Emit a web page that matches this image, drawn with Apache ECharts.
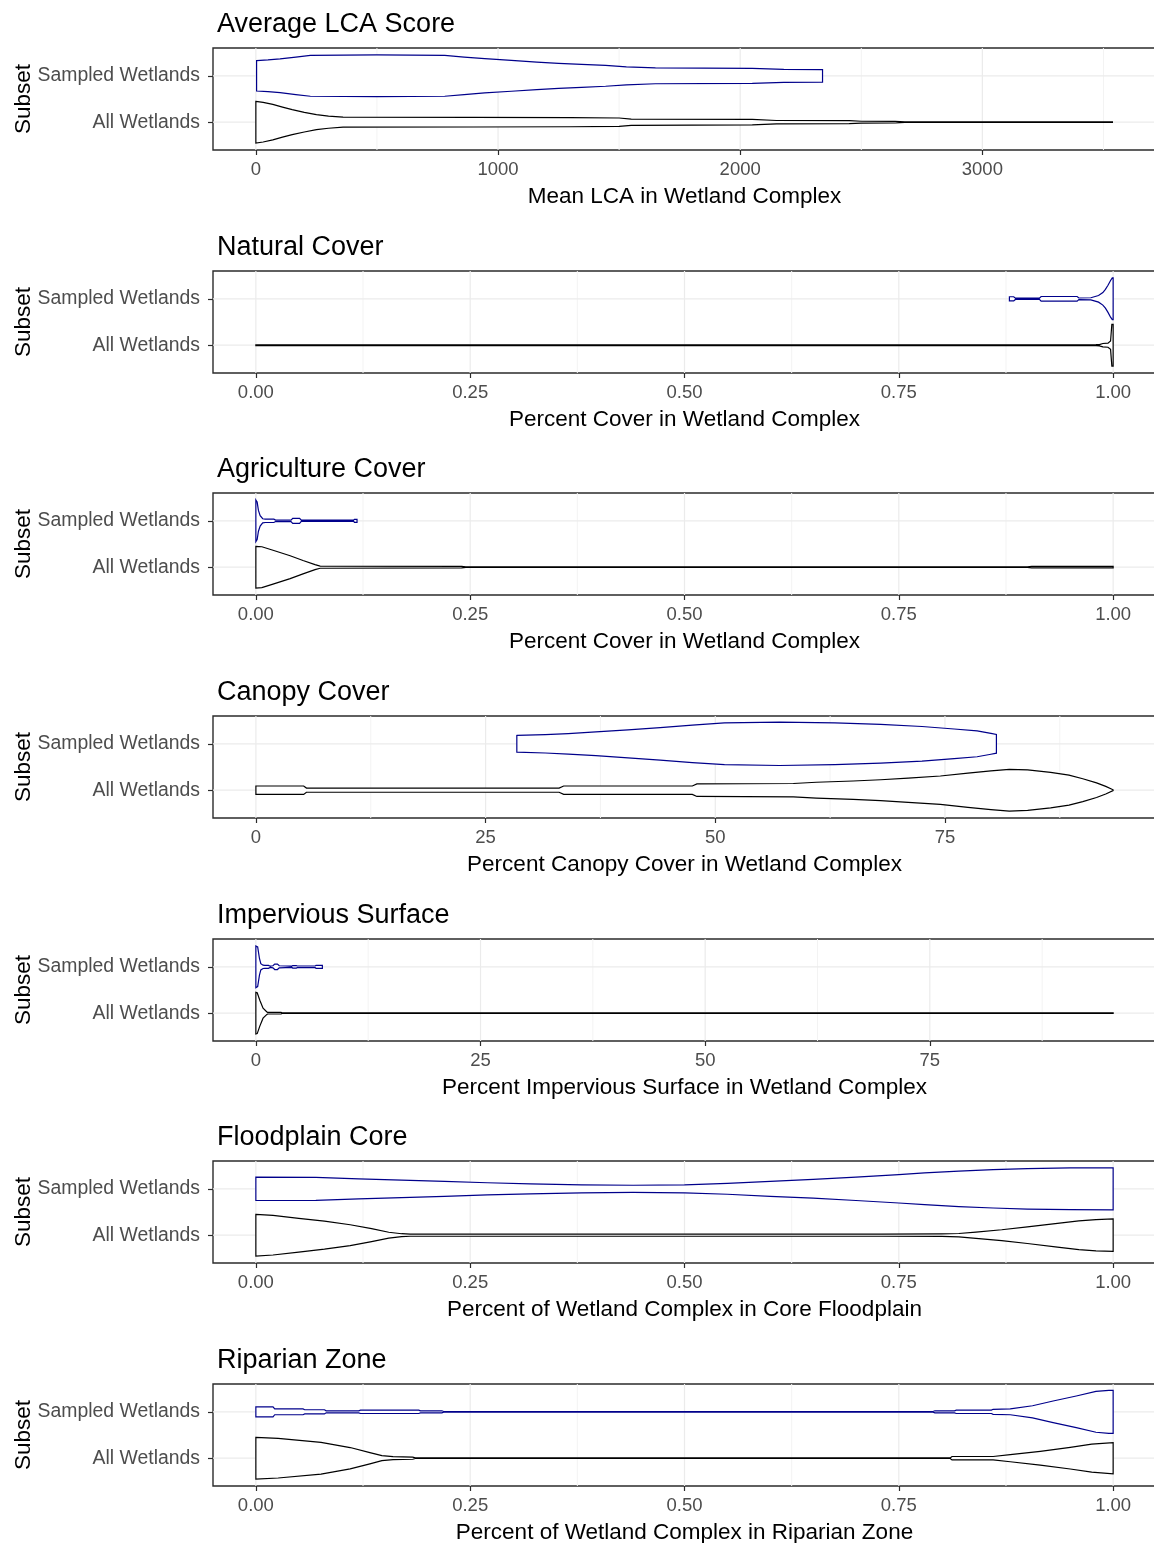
<!DOCTYPE html>
<html>
<head>
<meta charset="utf-8">
<script src="https://cdn.jsdelivr.net/npm/echarts@6/dist/echarts.min.js"></script>
<style>
  html, body { margin: 0; padding: 0; background: #fff; }
  #chart { width: 1154px; height: 1543px; }
</style>
</head>
<body>
<div id="chart"></div>
<script>
// ---- Labels -------------------------------------------------------------
const subsetLabels = ['All Wetlands', 'Sampled Wetlands'];   // y = 1, 2
const panelTitles = [
  'Average LCA Score', 'Natural Cover', 'Agriculture Cover', 'Canopy Cover',
  'Impervious Surface', 'Floodplain Core', 'Riparian Zone'
];
const axisTitles = [
  'Mean LCA in Wetland Complex',
  'Percent Cover in Wetland Complex',
  'Percent Cover in Wetland Complex',
  'Percent Canopy Cover in Wetland Complex',
  'Percent Impervious Surface in Wetland Complex',
  'Percent of Wetland Complex in Core Floodplain',
  'Percent of Wetland Complex in Riparian Zone'
];

// ---- Scales (data range plus 5% padding) -------------------------------
const xLimits = [
  [-177, 3717], [-0.05, 1.05], [-0.05, 1.05], [-4.67, 97.97],
  [-4.77, 100.17], [-0.05, 1.05], [-0.05, 1.05]
];
const majorBreaks = [
  [0, 1000, 2000, 3000],
  [0, 0.25, 0.5, 0.75, 1],
  [0, 0.25, 0.5, 0.75, 1],
  [0, 25, 50, 75],
  [0, 25, 50, 75],
  [0, 0.25, 0.5, 0.75, 1],
  [0, 0.25, 0.5, 0.75, 1]
];
const minorBreaks = [
  [500, 1500, 2500, 3500],
  [0.125, 0.375, 0.625, 0.875],
  [0.125, 0.375, 0.625, 0.875],
  [12.5, 37.5, 62.5, 87.5],
  [12.5, 37.5, 62.5, 87.5],
  [0.125, 0.375, 0.625, 0.875],
  [0.125, 0.375, 0.625, 0.875]
];
const tickDecimals = [0, 2, 2, 0, 0, 2, 2];

// ---- Violin profiles: [value, relative density width] -----------------
const lcaAll = [[0,1.0],[30,0.95],[70,0.85],[110,0.72],[150,0.6],[200,0.47],[250,0.36],[300,0.29],[360,0.24],[900,0.23],[1300,0.22],[1500,0.2],[1550,0.15],[2050,0.13],[2150,0.08],[2450,0.07],[2500,0.045],[2640,0.04],[2680,0.012],[3537,0.01]];
const lcaSampled = [[3,0.73],[50,0.76],[100,0.81],[165,0.9],[225,0.98],[500,1.0],[780,0.98],[860,0.9],[945,0.82],[1055,0.74],[1160,0.66],[1250,0.6],[1345,0.55],[1444,0.5],[1530,0.43],[1650,0.38],[2050,0.36],[2180,0.31],[2340,0.3]];

const naturalAll = [[0,0.02],[0.5,0.02],[0.98,0.025],[0.984,0.03],[0.988,0.08],[0.994,0.1],[0.997,0.2],[0.9985,1.0],[1.0,1.0]];
const naturalSampled = [[0.879,0.1],[0.884,0.1],[0.886,0.03],[0.914,0.03],[0.916,0.11],[0.958,0.11],[0.96,0.04],[0.974,0.05],[0.978,0.1],[0.983,0.16],[0.988,0.3],[0.991,0.45],[0.994,0.65],[0.997,0.88],[0.999,1.0],[1.0,1.0]];

const agricultureAll = [[0,1.0],[0.007,0.98],[0.02,0.81],[0.04,0.55],[0.055,0.32],[0.069,0.12],[0.075,0.05],[0.24,0.035],[0.245,0.015],[0.9,0.015],[0.905,0.035],[1.0,0.035]];
const agricultureSampled = [[0,1.0],[0.0015,0.9],[0.003,0.5],[0.005,0.25],[0.008,0.1],[0.011,0.08],[0.021,0.08],[0.023,0.035],[0.041,0.035],[0.043,0.12],[0.051,0.12],[0.053,0.03],[0.114,0.03],[0.115,0.07],[0.118,0.07]];

const canopyAll = [[0,0.2],[5.2,0.2],[5.5,0.1],[33,0.1],[33.5,0.2],[47.5,0.2],[48,0.3],[58.5,0.32],[61,0.38],[65,0.44],[68,0.5],[71,0.58],[74.5,0.68],[77.5,0.82],[80,0.93],[82,1.0],[84,0.97],[86.5,0.85],[88.5,0.72],[90,0.55],[91.5,0.35],[92.5,0.18],[93.3,0.02]];
const canopySampled = [[28.4,0.4],[31.5,0.44],[34,0.49],[37,0.57],[40.5,0.67],[44,0.78],[47.5,0.9],[51,1.0],[57,1.04],[63,1.0],[68,0.93],[72.5,0.83],[76,0.71],[78.5,0.62],[80,0.5],[80.6,0.45]];

const imperviousAll = [[0,1.0],[0.15,0.98],[0.44,0.62],[0.8,0.24],[1.2,0.07],[1.3,0.04],[2.8,0.04],[2.9,0.015],[95.4,0.015]];
const imperviousSampled = [[0,1.0],[0.2,0.95],[0.4,0.4],[0.55,0.15],[0.8,0.08],[1.0,0.07],[1.4,0.07],[1.6,0.03],[1.9,0.05],[2.1,0.13],[2.4,0.13],[2.6,0.05],[4.0,0.03],[4.1,0.06],[4.5,0.06],[4.6,0.04],[6.6,0.04],[6.7,0.07],[7.4,0.07]];

const floodplainAll = [[0,1.0],[0.02,0.95],[0.05,0.81],[0.08,0.67],[0.11,0.5],[0.135,0.31],[0.155,0.14],[0.17,0.07],[0.18,0.05],[0.73,0.05],[0.8,0.06],[0.82,0.08],[0.84,0.15],[0.87,0.26],[0.9,0.4],[0.935,0.57],[0.96,0.69],[0.98,0.75],[1.0,0.78]];
const floodplainSampled = [[0,0.56],[0.07,0.55],[0.12,0.48],[0.17,0.42],[0.22,0.36],[0.27,0.29],[0.32,0.24],[0.38,0.19],[0.44,0.17],[0.5,0.19],[0.55,0.26],[0.6,0.36],[0.65,0.45],[0.7,0.56],[0.75,0.68],[0.78,0.76],[0.82,0.85],[0.86,0.92],[0.9,0.97],[0.95,1.0],[1.0,1.01]];

const riparianAll = [[0,1.0],[0.026,0.95],[0.076,0.76],[0.11,0.51],[0.133,0.27],[0.147,0.12],[0.16,0.07],[0.183,0.05],[0.186,0.015],[0.81,0.015],[0.812,0.08],[0.86,0.08],[0.88,0.17],[0.915,0.33],[0.95,0.52],[0.975,0.67],[1.0,0.75]];
const riparianSampled = [[0,0.24],[0.02,0.24],[0.022,0.14],[0.055,0.14],[0.057,0.1],[0.08,0.1],[0.082,0.05],[0.12,0.05],[0.122,0.08],[0.19,0.08],[0.192,0.05],[0.217,0.05],[0.219,0.015],[0.79,0.015],[0.792,0.05],[0.815,0.05],[0.817,0.08],[0.858,0.08],[0.86,0.12],[0.88,0.14],[0.906,0.29],[0.93,0.52],[0.957,0.76],[0.98,0.98],[0.995,1.03],[1.0,1.03]];

const violinPairs = [
  [lcaAll, lcaSampled],
  [naturalAll, naturalSampled],
  [agricultureAll, agricultureSampled],
  [canopyAll, canopySampled],
  [imperviousAll, imperviousSampled],
  [floodplainAll, floodplainSampled],
  [riparianAll, riparianSampled]
];

// ---- Layout & styling ----------------------------------------------------
const FONT = '"Liberation Sans", Arial, sans-serif';
const PLOT_LEFT = 213, PLOT_WIDTH = 943, PLOT_HEIGHT = 102;
const FIRST_TOP = 48, PANEL_STEP = 222.67;
const MAX_HALF = 0.45;                       // half violin width, in category units
const SUBSET_COLORS = ['#000000', '#00008B'];
const GRID_MAJOR = '#EBEBEB', GRID_MINOR = '#F3F3F3';
const FRAME = '#2B2B2B';

const grids = [], xAxes = [], yAxes = [], titles = [], series = [];

function gridLineSeries(i, values, vertical, color, width) {
  return {
    type: 'custom', xAxisIndex: i, yAxisIndex: i, z: 1, silent: true,
    data: values.map(v => vertical ? [v, 1] : [xLimits[i][0], v]),
    encode: { x: 0, y: 1 },
    renderItem: function (params, api) {
      const cs = params.coordSys;
      const p = api.coord([api.value(0), api.value(1)]);
      const shape = vertical
        ? { x1: p[0], y1: cs.y, x2: p[0], y2: cs.y + cs.height }
        : { x1: cs.x, y1: p[1], x2: cs.x + cs.width, y2: p[1] };
      return { type: 'line', shape: shape, style: { stroke: color, lineWidth: width } };
    }
  };
}

function violinSeries(i, cat, profile, color) {
  return {
    type: 'custom', xAxisIndex: i, yAxisIndex: i, z: 3, silent: true,
    data: [[profile[0][0], cat]],
    encode: { x: 0, y: 1 },
    renderItem: function (params, api) {
      const perUnit = api.size([0, 1])[1];
      const upper = [], lower = [];
      profile.forEach(function (pt) {
        const c = api.coord([pt[0], cat]);
        const h = pt[1] * MAX_HALF * perUnit;
        upper.push([c[0], c[1] - h]);
        lower.push([c[0], c[1] + h]);
      });
      return {
        type: 'polygon',
        shape: { points: upper.concat(lower.reverse()) },
        style: { fill: '#ffffff', stroke: color, lineWidth: 1.2 }
      };
    }
  };
}

panelTitles.forEach(function (title, i) {
  const top = Math.round(FIRST_TOP + i * PANEL_STEP);
  grids.push({
    left: PLOT_LEFT, top: top, width: PLOT_WIDTH, height: PLOT_HEIGHT,
    outerBoundsMode: 'none', containLabel: false,
    show: true, backgroundColor: '#ffffff', borderColor: FRAME, borderWidth: 1.4
  });
  titles.push({
    text: title, left: PLOT_LEFT - 1, top: top - 42,
    textStyle: { fontFamily: FONT, fontSize: 27, fontWeight: 'normal', color: '#000000' }
  });
  xAxes.push({
    gridIndex: i, type: 'value', min: xLimits[i][0], max: xLimits[i][1],
    axisLine: { show: false, onZero: false },
    axisTick: { show: true, customValues: majorBreaks[i], length: 5, lineStyle: { color: FRAME, width: 1.2 } },
    axisLabel: {
      customValues: majorBreaks[i], margin: 10, color: '#4D4D4D',
      fontFamily: FONT, fontSize: 18.5,
      formatter: function (v) { return Number(v).toFixed(tickDecimals[i]); }
    },
    splitLine: { show: false },
    name: axisTitles[i], nameLocation: 'middle', nameGap: 35, nameMoveOverlap: false,
    nameTextStyle: { fontFamily: FONT, fontSize: 22.5, color: '#000000' }
  });
  yAxes.push({
    gridIndex: i, type: 'value', min: 0.4, max: 2.6,
    axisLine: { show: false, onZero: false },
    axisTick: { show: true, customValues: [1, 2], length: 5, lineStyle: { color: FRAME, width: 1.2 } },
    axisLabel: {
      customValues: [1, 2], margin: 13, color: '#4D4D4D',
      fontFamily: FONT, fontSize: 19.4, padding: [4, 0, 0, 0],
      formatter: function (v) { return subsetLabels[Math.round(v) - 1]; }
    },
    splitLine: { show: false },
    name: 'Subset', nameLocation: 'middle', nameRotate: 90, nameGap: 178, nameMoveOverlap: false,
    nameTextStyle: { fontFamily: FONT, fontSize: 22.5, color: '#000000' }
  });

  series.push(gridLineSeries(i, minorBreaks[i], true, GRID_MINOR, 1));
  series.push(gridLineSeries(i, majorBreaks[i], true, GRID_MAJOR, 1.2));
  series.push(gridLineSeries(i, [1, 2], false, GRID_MAJOR, 1.2));
  violinPairs[i].forEach(function (profile, k) {
    series.push(violinSeries(i, k + 1, profile, SUBSET_COLORS[k]));
  });
});

const chart = echarts.init(document.getElementById('chart'), null, { renderer: 'canvas' });
chart.setOption({
  animation: false,
  backgroundColor: '#ffffff',
  title: titles,
  grid: grids,
  xAxis: xAxes,
  yAxis: yAxes,
  series: series
});
</script>
</body>
</html>
